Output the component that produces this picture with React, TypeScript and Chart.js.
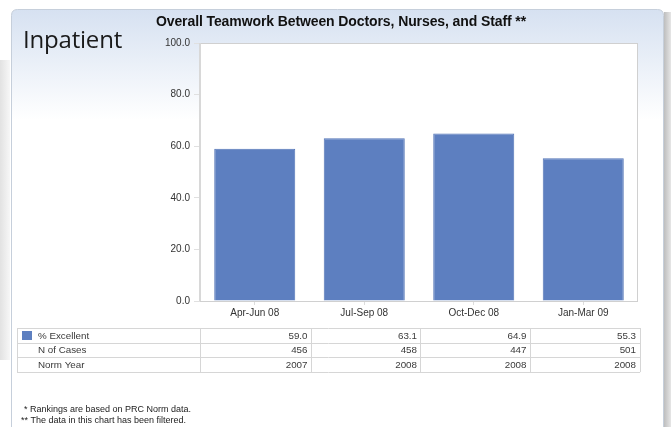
import React, { useEffect, useRef } from "react";
import { Chart, registerables } from "chart.js";

Chart.register(...registerables);

const categories = ["Apr-Jun 08", "Jul-Sep 08", "Oct-Dec 08", "Jan-Mar 09"];
const pctExcellent = [59.0, 63.1, 64.9, 55.3];
const nCases = [456, 458, 447, 501];
const normYear = [2007, 2008, 2008, 2008];
const rowLabels = ["% Excellent", "N of Cases", "Norm Year"];
const titleText = "Overall Teamwork Between Doctors, Nurses, and Staff **";
const sideLabel = "Inpatient";
const footnotes = ["* Rankings are based on PRC Norm data.", "** The data in this chart has been filtered."];

const W = 671;
const H = 427;
const BAR = "#5d7fc0";
const FONT = "'Liberation Sans', Arial, sans-serif";

function roundRect(ctx: CanvasRenderingContext2D, x: number, y: number, w: number, h: number, r: number) {
  ctx.beginPath();
  ctx.moveTo(x + r, y);
  ctx.lineTo(x + w - r, y);
  ctx.quadraticCurveTo(x + w, y, x + w, y + r);
  ctx.lineTo(x + w, y + h - r);
  ctx.quadraticCurveTo(x + w, y + h, x + w - r, y + h);
  ctx.lineTo(x + r, y + h);
  ctx.quadraticCurveTo(x, y + h, x, y + h - r);
  ctx.lineTo(x, y + r);
  ctx.quadraticCurveTo(x, y, x + r, y);
  ctx.closePath();
}

const decorPlugin = {
  id: "decor",
  beforeDraw(chart: any) {
    const ctx: CanvasRenderingContext2D = chart.ctx;
    const ca = chart.chartArea;
    ctx.save();
    ctx.fillStyle = "#ffffff";
    ctx.fillRect(0, 0, W, H);
    const lg = ctx.createLinearGradient(0, 0, 10, 0);
    lg.addColorStop(0, "#e2e2e2");
    lg.addColorStop(1, "#f7f7f7");
    ctx.fillStyle = lg;
    ctx.fillRect(0, 60, 10, 300);
    const rg = ctx.createLinearGradient(663, 0, 671, 0);
    rg.addColorStop(0, "#b8b8b8");
    rg.addColorStop(1, "#e6e6e6");
    ctx.fillStyle = rg;
    ctx.fillRect(664, 12, 7, H);
    const pg = ctx.createLinearGradient(0, 9, 0, 120);
    pg.addColorStop(0, "#d6e1f1");
    pg.addColorStop(1, "#ffffff");
    roundRect(ctx, 11.5, 9.5, 652, 440, 6);
    ctx.fillStyle = pg;
    ctx.fill();
    ctx.strokeStyle = "#c6cfdb";
    ctx.lineWidth = 1;
    ctx.stroke();
    ctx.fillStyle = "#ffffff";
    ctx.fillRect(ca.left, ca.top, ca.right - ca.left, ca.bottom - ca.top);
    ctx.fillStyle = "#1a1a1a";
    ctx.font = `24px 'Open Sans', 'Noto Sans', sans-serif`;
    ctx.textAlign = "left";
    ctx.textBaseline = "alphabetic";
    (ctx as any).letterSpacing = "-0.2px";
    ctx.fillText(sideLabel, 23, 48);
    ctx.fillStyle = "#111";
    ctx.font = `bold 14px ${FONT}`;
    (ctx as any).letterSpacing = "-0.1px";
    ctx.textAlign = "center";
    ctx.textBaseline = "middle";
    ctx.fillText(titleText, 341, 22);
    (ctx as any).letterSpacing = "0px";
    ctx.restore();
  },
  afterDatasetsDraw(chart: any) {
    const ctx: CanvasRenderingContext2D = chart.ctx;
    const ca = chart.chartArea;
    ctx.save();
    ctx.strokeStyle = "#d0d0d0";
    ctx.lineWidth = 1;
    ctx.strokeRect(ca.left + 0.5, ca.top + 0.5, ca.right - ca.left - 1, ca.bottom - ca.top);
    ctx.strokeStyle = "#d8d8d8";
    ctx.lineWidth = 2;
    ctx.beginPath();
    ctx.moveTo(ca.left, ca.top);
    ctx.lineTo(ca.left, ca.bottom);
    ctx.stroke();
    ctx.restore();
  },
  afterDraw(chart: any) {
    const ctx: CanvasRenderingContext2D = chart.ctx;
    const xs = chart.scales.x;
    const ca = chart.chartArea;
    const cw = xs.getPixelForValue(1) - xs.getPixelForValue(0);
    const tLeft = 17;
    const tTop = 328;
    const rowH = 14.7;
    const tRight = xs.getPixelForValue(categories.length - 1) + cw / 2 + 2;
    const rows = [pctExcellent.map((v) => v.toFixed(1)), nCases.map(String), normYear.map(String)];
    ctx.save();
    ctx.fillStyle = "#ffffff";
    ctx.fillRect(tLeft, tTop, tRight - tLeft, rowH * 3);
    ctx.strokeStyle = "#d6d6d6";
    ctx.lineWidth = 1;
    for (let r = 0; r <= 3; r++) {
      const y = Math.round(tTop + r * rowH) + 0.5;
      ctx.beginPath();
      ctx.moveTo(tLeft, y);
      ctx.lineTo(tRight, y);
      ctx.stroke();
    }
    const bounds = [tLeft, ca.left];
    for (let i = 0; i < categories.length; i++) bounds.push(xs.getPixelForValue(i) + cw / 2 + (i === categories.length - 1 ? 2 : 1));
    bounds.forEach((bx) => {
      const x = Math.round(bx) + 0.5;
      ctx.beginPath();
      ctx.moveTo(x, tTop);
      ctx.lineTo(x, tTop + rowH * 3);
      ctx.stroke();
    });
    ctx.font = `9.8px ${FONT}`;
    ctx.textBaseline = "middle";
    for (let r = 0; r < 3; r++) {
      const yc = tTop + r * rowH + rowH / 2 + 0.5;
      ctx.fillStyle = "#3a3a3a";
      ctx.textAlign = "left";
      ctx.fillText(rowLabels[r], 38, yc);
      for (let i = 0; i < categories.length; i++) {
        ctx.textAlign = "right";
        ctx.fillText(rows[r][i], xs.getPixelForValue(i) + cw / 2 - 2, yc);
      }
    }
    ctx.fillStyle = BAR;
    ctx.fillRect(22, 331, 10, 9);
    ctx.fillStyle = "#222";
    ctx.textAlign = "left";
    ctx.font = `9px ${FONT}`;
    ctx.fillText(footnotes[0], 24, 410);
    ctx.fillText(footnotes[1], 21, 421);
    ctx.restore();
  },
};

export default function App() {
  const ref = useRef<HTMLCanvasElement | null>(null);
  useEffect(() => {
    if (!ref.current) return;
    const chart = new Chart(ref.current, {
      type: "bar",
      data: {
        labels: categories,
        datasets: [
          {
            label: rowLabels[0],
            data: pctExcellent,
            backgroundColor: BAR,
            borderColor: "#5274b6",
            borderWidth: 1,
            categoryPercentage: 1,
            barPercentage: 0.74,
          },
        ],
      },
      options: {
        animation: false,
        responsive: false,
        devicePixelRatio: 1,
        layout: { padding: { left: 150, top: 43, right: 33, bottom: 106 } },
        plugins: { legend: { display: false }, title: { display: false }, tooltip: { enabled: false } },
        scales: {
          x: {
            afterFit: (s: any) => {
              s.height = 20;
            },
            grid: { offset: false, drawOnChartArea: false, tickLength: 4, color: "#dddddd" },
            border: { display: false },
            ticks: { font: { size: 10, family: FONT }, color: "#333", padding: 2 },
          },
          y: {
            min: 0,
            max: 100,
            afterFit: (s: any) => {
              s.width = 50;
            },
            grid: { drawOnChartArea: false, tickLength: 6, color: "#e0e0e0" },
            border: { display: false },
            ticks: {
              stepSize: 20,
              font: { size: 10, family: FONT },
              color: "#333",
              padding: 4,
              callback: (v: any) => Number(v).toFixed(1),
            },
          },
        },
      },
      plugins: [decorPlugin],
    });
    return () => chart.destroy();
  }, []);
  return (
    <div style={{ position: "fixed", left: 0, top: 0, width: W, height: H }}>
      <canvas ref={ref} width={W} height={H} style={{ display: "block", width: W, height: H }} />
    </div>
  );
}
